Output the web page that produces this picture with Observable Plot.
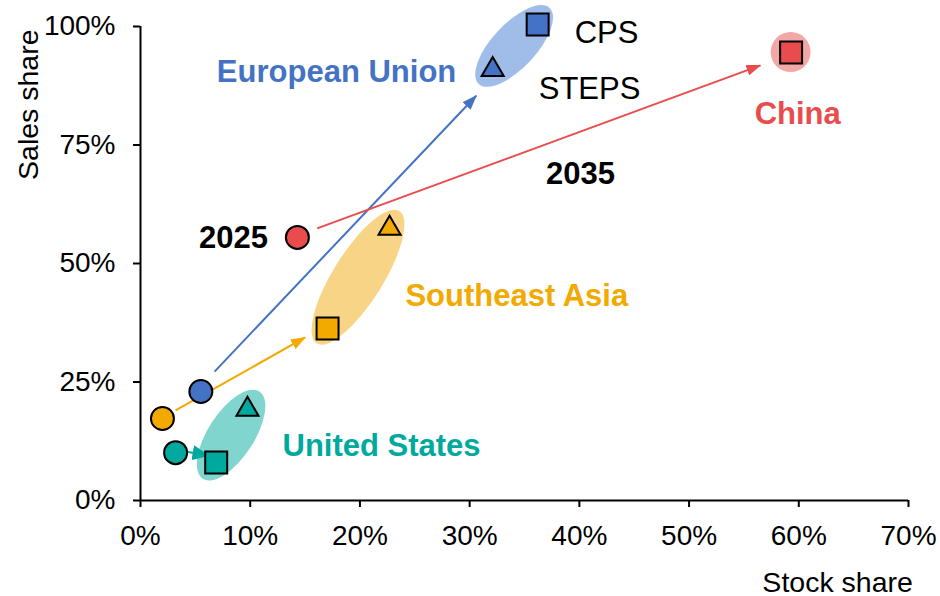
<!DOCTYPE html>
<html><head><meta charset="utf-8">
<script src="https://cdn.jsdelivr.net/npm/d3@7"></script>
<script src="https://cdn.jsdelivr.net/npm/@observablehq/plot@0.6"></script>
<style>
body{margin:0;background:#fff}
#chart{width:940px;height:596px}
</style>
</head><body><div id="chart"></div>
<script>
// ---- data ----
const regions     = ["European Union", "China", "Southeast Asia", "United States"];
const regionColor = ["#4472C4", "#E84C4C", "#F2A900", "#00A99D"];
const haloColor   = ["#A0BDEA", "#F3A8A8", "#F8D586", "#80D5CE"];
// 2025 (circle)
const stock2025 = [0.055, 0.143, 0.020, 0.032];
const sales2025 = [0.230, 0.555, 0.173, 0.101];
// 2035 CPS (square)
const stockCPS = [0.362, 0.593, 0.1705, 0.069];
const salesCPS = [1.004, 0.945, 0.363, 0.080];
// 2035 STEPS (triangle)
const stockSTEPS = [0.321, null, 0.227, 0.0975];
const salesSTEPS = [0.909, null, 0.574, 0.192];
// arrows
const arrowX1 = [0.0675, 0.161, 0.032, 0.042];
const arrowY1 = [0.272, 0.574, 0.190, 0.103];
const arrowX2 = [0.306, 0.565, 0.150, 0.062];
const arrowY2 = [0.854, 0.918, 0.344, 0.095];
// halos (highlight ellipses)
const haloX = [0.341, 0.593, 0.1987, 0.083];
const haloY = [0.958, 0.945, 0.470, 0.137];
const haloRx = [52, 20, 78, 52];
const haloRy = [22, 20, 25, 23];
const haloAngle = [-47, 0, -58, -57];
// labels
const boldText  = ["European Union", "China", "Southeast Asia", "United States", "2025", "2035"];
const boldX     = [0.1787, 0.599, 0.343, 0.2197, 0.0848, 0.401];
const boldY     = [0.903, 0.816, 0.432, 0.114, 0.553, 0.688];
const boldColor = ["#4472C4", "#E84C4C", "#F2A900", "#00A99D", "#000000", "#000000"];
const plainText = ["CPS", "STEPS"];
const plainX    = [0.4248, 0.4093];
const plainY    = [0.987, 0.869];
// axis titles
const axisTitles = ["Sales share", "Stock share"];
const axisTitleX = [-0.1021, 0.6354];
const axisTitleY = [0.835, -0.173];
const axisTitleRotate = [-90, 0];
// axes
const xTicks = [0, 0.1, 0.2, 0.3, 0.4, 0.5, 0.6, 0.7];
const yTicks = [0, 0.25, 0.5, 0.75, 1];

// ---- tables ----
const dots2025 = regions.map((r, i) => ({x: stock2025[i], y: sales2025[i], c: regionColor[i]}));
const dotsCPS = regions.map((r, i) => ({x: stockCPS[i], y: salesCPS[i], c: regionColor[i]}));
const dotsSTEPS = regions.map((r, i) => ({x: stockSTEPS[i], y: salesSTEPS[i], c: regionColor[i]})).filter(d => d.x != null);
const arrows = regions.map((r, i) => ({x1: arrowX1[i], y1: arrowY1[i], x2: arrowX2[i], y2: arrowY2[i], c: regionColor[i]}));
const halos = regions.map((r, i) => ({x: haloX[i], y: haloY[i], rx: haloRx[i], ry: haloRy[i], a: haloAngle[i], c: haloColor[i]}));
const boldLabels = boldText.map((t, i) => ({t, x: boldX[i], y: boldY[i], c: boldColor[i]}));
const plainLabels = plainText.map((t, i) => ({t, x: plainX[i], y: plainY[i]}));
const titles = axisTitles.map((t, i) => ({t, x: axisTitleX[i], y: axisTitleY[i], r: axisTitleRotate[i]}));

const pct = d3.format(".0%");

const svg = Plot.plot({
  width: 940, height: 596,
  marginLeft: 140, marginRight: 32, marginTop: 26, marginBottom: 96,
  style: {fontFamily: "'Liberation Sans', Arial, sans-serif", fontSize: "28px", background: "#fff", color: "#000", overflow: "visible"},
  x: {domain: [0, 0.7]},
  y: {domain: [0, 1]},
  color: {type: "identity"},
  marks: [
    Plot.dot(halos, {x: "x", y: "y", render(index, scales, values) {
      const g = d3.create("svg:g");
      for (const i of index) {
        const cx = values.x[i], cy = values.y[i], h = halos[i];
        g.append("ellipse").attr("cx", cx).attr("cy", cy).attr("rx", h.rx).attr("ry", h.ry)
          .attr("fill", h.c).attr("transform", `rotate(${h.a} ${cx} ${cy})`);
      }
      return g.node();
    }}),
    Plot.axisX({ticks: xTicks, tickFormat: pct, tickSize: 7, tickPadding: 18, strokeWidth: 2, fontSize: 28, label: null}),
    Plot.axisY({ticks: yTicks, tickFormat: pct, tickSize: 7, tickPadding: 18, strokeWidth: 2, fontSize: 28, label: null}),
    Plot.ruleX([0], {stroke: "#000", strokeWidth: 2}),
    Plot.ruleY([0], {stroke: "#000", strokeWidth: 2}),
    Plot.link(arrows, {x1: "x1", y1: "y1", x2: "x2", y2: "y2", stroke: "c", strokeWidth: 2, markerEnd: "arrow"}),
    Plot.dot(dots2025, {x: "x", y: "y", fill: "c", stroke: "#000", strokeWidth: 2, r: 11.5, symbol: "circle"}),
    Plot.dot(dotsCPS, {x: "x", y: "y", fill: "c", stroke: "#000", strokeWidth: 2, r: 12.4, symbol: "square"}),
    Plot.dot(dotsSTEPS, {x: "x", y: "y", fill: "c", stroke: "#000", strokeWidth: 2, r: 8.2, symbol: "triangle"}),
    Plot.text(boldLabels, {x: "x", y: "y", text: "t", fill: "c", fontWeight: "bold", fontSize: 31}),
    Plot.text(plainLabels, {x: "x", y: "y", text: "t", fill: "#000", fontSize: 31}),
    Plot.text(titles, {x: "x", y: "y", text: "t", rotate: "r", fontSize: 28.5, fill: "#000"})
  ]
});

// filled triangular arrowheads
d3.select(svg).selectAll("marker").each(function() {
  const m = d3.select(this);
  const c = m.attr("stroke");
  const big = c && c.toLowerCase() === "#00a99d";
  const L = big ? 16 : 14, W = big ? 15 : 11;
  m.attr("viewBox", `${-L} ${-W/2} ${L + 1} ${W}`)
   .attr("markerUnits", "userSpaceOnUse")
   .attr("markerWidth", L + 1).attr("markerHeight", W)
   .attr("fill", c).attr("stroke", "none");
  m.selectAll("*").remove();
  m.append("path").attr("d", `M${-L},${-W/2}L1,0L${-L},${W/2}Z`);
});

document.getElementById("chart").appendChild(svg);
</script>
</body></html>
